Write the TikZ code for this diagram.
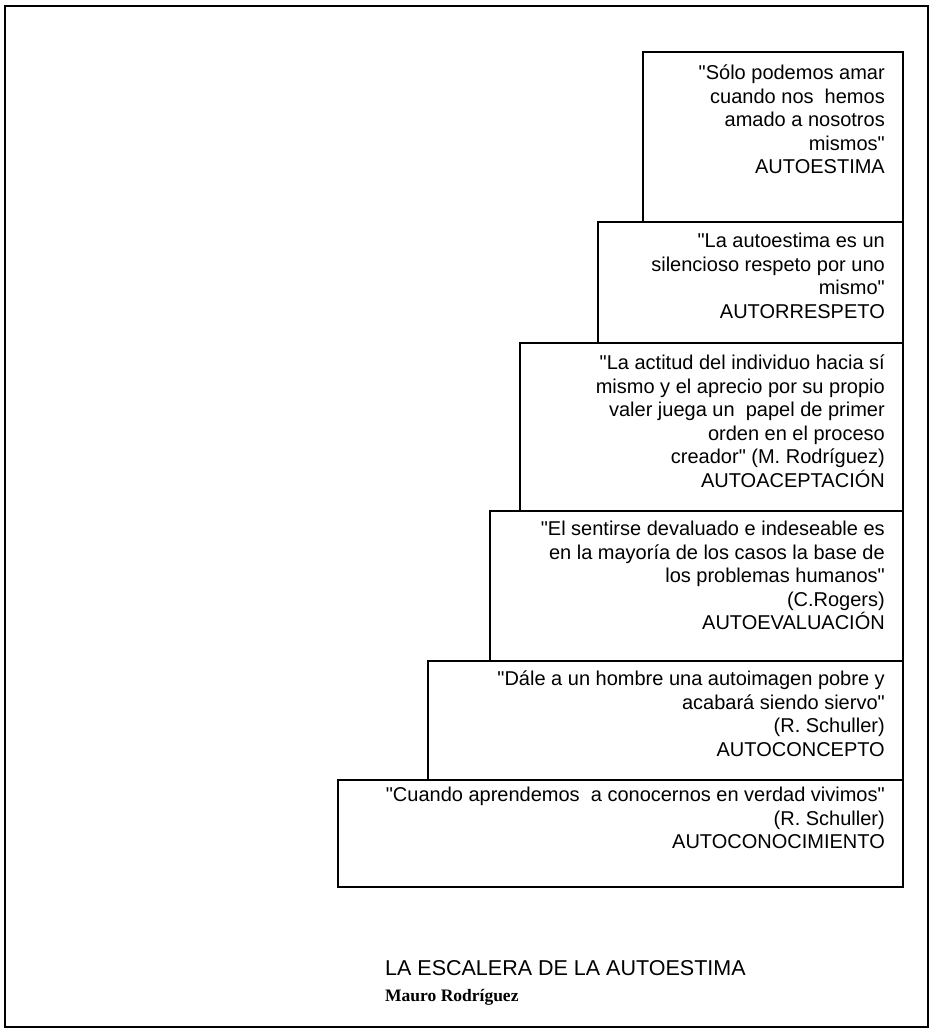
\documentclass[tikz,border=0pt]{standalone}
\usepackage{fontspec}
\setmainfont{Liberation Sans}[Ligatures=TeXOff]
\newfontfamily\serifbf{Liberation Serif}
\begin{document}
\begin{tikzpicture}[x=1pt,y=-1pt,
  stepbox/.style={draw=black,line width=1.5pt},
  quote/.style={anchor=north east,align=right,inner sep=0pt,font=\fontsize{20}{23.5}\selectfont},
  frame/.style={draw=black,line width=1.5pt}]
\useasboundingbox (0,0) rectangle (931,1029);
\draw[frame] (5,6) rectangle (928,1027);
% boxes
\draw[stepbox] (643,52) rectangle (903,222);
\draw[stepbox] (598,222) rectangle (903,343);
\draw[stepbox] (520,343) rectangle (903,511);
\draw[stepbox] (490,511) rectangle (903,661);
\draw[stepbox] (428,661) rectangle (903,780);
\draw[stepbox] (338,780) rectangle (903,887);
% texts
\node[quote] (t1) at (885,65) {"Sólo podemos amar\\cuando nos\ \ hemos\\amado a nosotros\\mismos"\\AUTOESTIMA};
\node[quote] (t2) at (885,233) {"La autoestima es un\\silencioso respeto por uno\\mismo"\\AUTORRESPETO};
\node[quote] (t3) at (885,355) {"La actitud del individuo hacia sí\\mismo y el aprecio por su propio\\valer juega un\ \ papel de primer\\orden en el proceso\\creador" (M. Rodríguez)\\AUTOACEPTACIÓN};
\node[quote] (t4) at (885,521) {"El sentirse devaluado e indeseable es\\en la mayoría de los casos la base de\\los problemas humanos"\\(C.Rogers)\\AUTOEVALUACIÓN};
\node[quote] (t5) at (885,671) {"Dále a un hombre una autoimagen pobre y\\acabará siendo siervo"\\(R. Schuller)\\AUTOCONCEPTO};
\node[quote] (t6) at (885,787) {"Cuando aprendemos\ \ a conocernos en verdad vivimos"\\(R. Schuller)\\AUTOCONOCIMIENTO};
% title
\node[anchor=base west,inner sep=0pt,font=\fontsize{21.5}{24}\selectfont] (title) at (385,975) {LA ESCALERA DE LA AUTOESTIMA};
\node[anchor=base west,inner sep=0pt,font=\serifbf\bfseries\fontsize{17.5}{20}\selectfont] (author) at (385,1001) {Mauro Rodríguez};
\end{tikzpicture}
\end{document}
